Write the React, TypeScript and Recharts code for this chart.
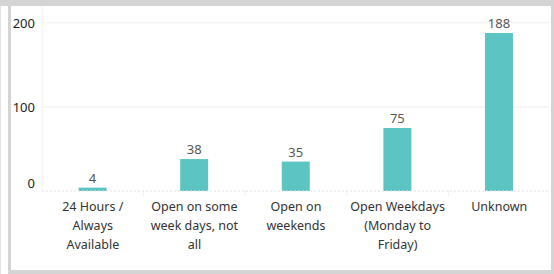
import React from "react";
import { BarChart, Bar, XAxis, YAxis, CartesianGrid, LabelList, ReferenceLine } from "recharts";

const categories = [
  "24 Hours / Always Available",
  "Open on some week days, not all",
  "Open on weekends",
  "Open Weekdays (Monday to Friday)",
  "Unknown",
];
const counts = [4, 38, 35, 75, 188];
const tickLines = [
  ["24 Hours /", "Always", "Available"],
  ["Open on some", "week days, not", "all"],
  ["Open on", "weekends"],
  ["Open Weekdays", "(Monday to", "Friday)"],
  ["Unknown"],
];
const yTicks = [0, 100, 200];

const data = categories.map((c, i) => ({ name: c, value: counts[i], lines: tickLines[i] }));

const FONT = "'Noto Sans', sans-serif";

const XTick = (p: any) => {
  const idx = p.index;
  const lines = tickLines[idx] || [];
  const half = 50.8;
  return (
    <g>
      {idx > 0 && (
        <line x1={p.x - half} x2={p.x - half} y1={191} y2={197} stroke="#e4e4e4" strokeDasharray="1 1" />
      )}
      <text x={p.x} y={211} textAnchor="middle" fill="#333" fontSize={12.5} fontFamily={FONT}>
        {lines.map((l: string, i: number) => (
          <tspan key={i} x={p.x} dy={i === 0 ? 0 : 19}>
            {l}
          </tspan>
        ))}
      </text>
    </g>
  );
};

const YTick = (p: any) => {
  const v = p.payload.value;
  const y = v === 0 ? p.y - 8 : p.y + 1;
  return (
    <text x={35} y={y} dy={4.5} textAnchor="end" fill="#222" fontSize={13} fontFamily={FONT}>
      {v}
    </text>
  );
};

export default function App() {
  return (
    <div style={{ position: "absolute", left: 0, top: 0, width: 554, height: 274, background: "#fff", overflow: "hidden" }}>
      <div style={{ position: "absolute", left: 0, top: 0, width: 1, height: 274, background: "#e2e2e2" }} />
      <div style={{ position: "absolute", left: 8, top: 0, width: 3, height: 274, background: "#d4d4d4" }} />
      <div style={{ position: "absolute", left: 0, top: 0, width: 554, height: 6, background: "#d4d4d4" }} />
      <div style={{ position: "absolute", left: 8, top: 270, width: 546, height: 4, background: "#d4d4d4" }} />
      <div style={{ position: "absolute", left: 551, top: 0, width: 3, height: 274, background: "#d4d4d4" }} />
      <div style={{ position: "absolute", left: 0, top: 0 }}>
        <BarChart width={554} height={274} data={data} margin={{ top: 6, right: 4, left: 0, bottom: 0 }} barCategoryGap="36%">
          <CartesianGrid vertical={false} stroke="#efefef" horizontalValues={[100, 200]} />
          <YAxis
            width={42}
            domain={[0, 220]}
            ticks={yTicks}
            tick={<YTick />}
            tickLine={false}
            axisLine={{ stroke: "#efefef" }}
            interval={0}
          />
          <XAxis dataKey="name" height={83} tick={<XTick />} tickLine={false} axisLine={false} interval={0} />
          <ReferenceLine y={0} stroke="#e2e2e2" strokeDasharray="2 2" />
          <Bar dataKey="value" fill="#5cc5c4" isAnimationActive={false}>
            <LabelList dataKey="value" position="top" offset={5} fill="#555" fontSize={13} fontFamily={FONT} />
          </Bar>
        </BarChart>
      </div>
    </div>
  );
}
